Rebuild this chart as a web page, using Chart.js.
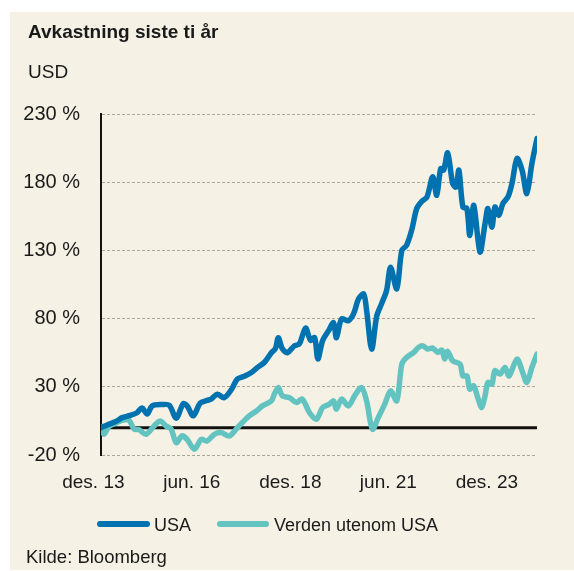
<!DOCTYPE html>
<html lang="no">
<head>
<meta charset="utf-8">
<title>Avkastning siste ti år</title>
<script src="https://cdn.jsdelivr.net/npm/chart.js@4.4.0/dist/chart.umd.min.js"></script>
<style>
  html, body { margin: 0; padding: 0; background: #fff; }
  #ramme { position: absolute; left: 10px; top: 12px; width: 564px; height: 558px; background: #f5f1e5; }
  #wrap { position: absolute; left: 0; top: 0; width: 574px; height: 571px; }
  .txt { position: absolute; font-family: 'Liberation Sans', Arial, sans-serif; color: #1a1a1a; white-space: nowrap; line-height: 1; }
  .strek { position: absolute; height: 6px; border-radius: 3px; }
</style>
</head>
<body>
<div id="ramme"></div>
<div id="wrap"><canvas id="graf"></canvas></div>

<div class="txt" style="left:28px; top:22px; font-size:19px; font-weight:bold;">Avkastning siste ti år</div>
<div class="txt" style="left:28px; top:62px; font-size:19px;">USD</div>

<div class="strek" style="left:97px; top:521px; width:53px; background:#0072af;"></div>
<div class="txt" style="left:154px; top:516px; font-size:18px;">USA</div>
<div class="strek" style="left:217px; top:521px; width:52px; background:#62c3c0;"></div>
<div class="txt" style="left:274px; top:516px; font-size:18px;">Verden utenom USA</div>

<div class="txt" style="left:26px; top:548px; font-size:18.5px;">Kilde: Bloomberg</div>

<script>
// --- data (måneder etter des. 2013, avkastning i %) ---
const usaMaaneder = [0, 1.7, 4.4, 5.8, 8, 9.9, 11.3, 12.7, 14.1, 16.8,
  18.8, 20.7, 22.6, 23.7, 25.4, 27.3, 29.2, 30.3, 32, 33.9,
  35.9, 37.5, 39.2, 41.4, 43, 45, 46.9, 48, 48.8, 49.9,
  51.3, 53.2, 54.6, 56.3, 57.7, 58.8, 59.7, 61, 62.6, 64,
  64.8, 66.2, 68.1, 69.5, 70.9, 72.3, 73.1, 74.5, 75.9, 77.2,
  78.6, 79.7, 81.4, 82.8, 84.1, 85.5, 86.9, 88.3, 89.7, 91.3,
  92.4, 93.5, 94.3, 95.4, 96.8, 97.7, 98.5, 99.6, 100.7, 101.5,
  102.6, 104.3, 105.7, 106.5, 107.6, 108.4, 109.5, 110.6, 112, 113.1,
  114.5, 115.9, 117.2, 118.6, 120];
const usaVerdier = [0, 2, 5, 7.4, 9, 11, 14.5, 10, 16, 17,
  16.5, 7, 17.5, 16, 8.7, 18, 20, 21, 24.6, 22,
  28, 35.6, 37.5, 40.5, 44, 48, 55, 58, 66, 58,
  55, 60, 61.5, 73, 64, 66, 50.5, 64, 71, 77,
  66, 79.7, 78.5, 83.4, 94.5, 98, 86, 57.7, 82, 90.8,
  100.6, 117.7, 101.8, 130, 133.7, 144.7, 160.7, 166, 169, 184,
  170.4, 190, 188.8, 201.5, 179, 176.5, 188.8, 161.8, 160.7, 141,
  163, 128.8, 149.6, 160.7, 147, 161.8, 155.7, 164.3, 169.2, 179,
  197.4, 188.8, 171.7, 193.7, 212];

const verdenMaaneder = [0, 0.8, 2.2, 4.4, 5.8, 7.7, 9.1, 10.5, 12.4, 14.6,
  16.3, 17.9, 19.3, 20.7, 22.3, 23.7, 25.7, 27.6, 29.2, 31.2,
  33.1, 35.3, 37.2, 38.9, 40.8, 42.8, 44.4, 46.9, 47.7, 48.8,
  49.9, 51.9, 53.8, 55.4, 57.4, 59.3, 61, 62.9, 64, 64.8,
  66.2, 68.1, 69.8, 71.7, 73.1, 74.7, 76.3, 78.1, 79.7, 81.4,
  82.8, 84.1, 86.1, 87.4, 88.6, 89.9, 91.3, 92.7, 93.8, 94.6,
  95.4, 96.8, 98.8, 99.6, 100.7, 101.5, 102.6, 103.7, 104.8, 105.7,
  106.5, 107.6, 108.4, 109.8, 111.2, 112.3, 114.5, 115.9, 117.2, 118.6,
  120];
const verdenVerdier = [0.5, -4.8, 1, 3.8, 5.5, 5.5, -1, -1.5, -4.8, 1.3,
  5, 1.3, -1, -11, -6, -8.5, -15.8, -8.5, -9.7, -4.8,
  -3.6, -6, -1, 3.8, 8.7, 12.3, 16, 19.7, 24.6, 29.5,
  23.4, 22, 18.5, 21, 11, 6.2, 14.8, 17.3, 19.7, 13.6,
  21, 16, 23.4, 29.5, 19.7, -1.1, 7.4, 17.3, 27, 19.7,
  46.7, 51.5, 55.2, 58.9, 60, 57.7, 58.4, 55.2, 57, 50.4,
  56, 49, 46.7, 38, 38, 28.3, 30.7, 22, 14.8, 23.4,
  33.2, 32, 41.8, 39.3, 44.2, 38, 50.4, 41.8, 33.2, 44.2,
  54];

const xEtiketter = ['des. 13', 'jun. 16', 'des. 18', 'jun. 21', 'des. 23'];
const xEtikettMaaneder = [-2.1, 25, 52.1, 79.1, 106.2];
const yTicks = [-20, 30, 80, 130, 180, 230];

const farger = {
  usa: '#0072af',
  verden: '#62c3c0',
  null: '#111111',
  rutenett: '#aaa499',
  tekst: '#1a1a1a'
};

const tilPunkter = (xs, ys) => xs.map((x, i) => ({ x: x, y: ys[i] }));

Chart.defaults.font.family = "'Liberation Sans', Arial, sans-serif";
Chart.defaults.color = farger.tekst;

new Chart(document.getElementById('graf').getContext('2d'), {
  type: 'line',
  data: {
    datasets: [
      {
        label: 'USA',
        data: tilPunkter(usaMaaneder, usaVerdier),
        borderColor: farger.usa,
        borderWidth: 5.5,
        pointRadius: 0,
        tension: 0.3,
        borderCapStyle: 'round',
        borderJoinStyle: 'round'
      },
      {
        label: 'Verden utenom USA',
        data: tilPunkter(verdenMaaneder, verdenVerdier),
        borderColor: farger.verden,
        borderWidth: 5.5,
        pointRadius: 0,
        tension: 0.3,
        borderCapStyle: 'round',
        borderJoinStyle: 'round'
      },
      {
        label: 'null',
        data: [{ x: 0, y: 0 }, { x: 120, y: 0 }],
        borderColor: farger.null,
        borderWidth: 3,
        pointRadius: 0
      }
    ]
  },
  options: {
    responsive: true,
    maintainAspectRatio: false,
    animation: false,
    layout: { padding: { left: 22, right: 37, top: 114, bottom: 76 } },
    plugins: {
      legend: { display: false },
      tooltip: { enabled: false }
    },
    scales: {
      x: {
        type: 'linear',
        min: 0,
        max: 120,
        afterBuildTicks: (akse) => { akse.ticks = xEtikettMaaneder.map(v => ({ value: v })); },
        afterFit: (akse) => { akse.height = 40; },
        grid: { display: false, drawTicks: false },
        border: { display: false },
        ticks: {
          autoSkip: false,
          maxRotation: 0,
          padding: 16,
          font: { size: 19 },
          color: farger.tekst,
          callback: (v, i) => xEtiketter[i]
        }
      },
      y: {
        min: -20,
        max: 230,
        afterBuildTicks: (akse) => { akse.ticks = yTicks.map(v => ({ value: v })); },
        afterFit: (akse) => { akse.width = 79; },
        grid: { color: farger.rutenett, lineWidth: 1, drawTicks: false },
        border: { display: true, color: farger.null, width: 2, dash: [3, 2] },
        ticks: {
          padding: 21,
          font: { size: 20 },
          color: farger.tekst,
          callback: (v) => v + ' %'
        }
      }
    }
  }
});
</script>
</body>
</html>
